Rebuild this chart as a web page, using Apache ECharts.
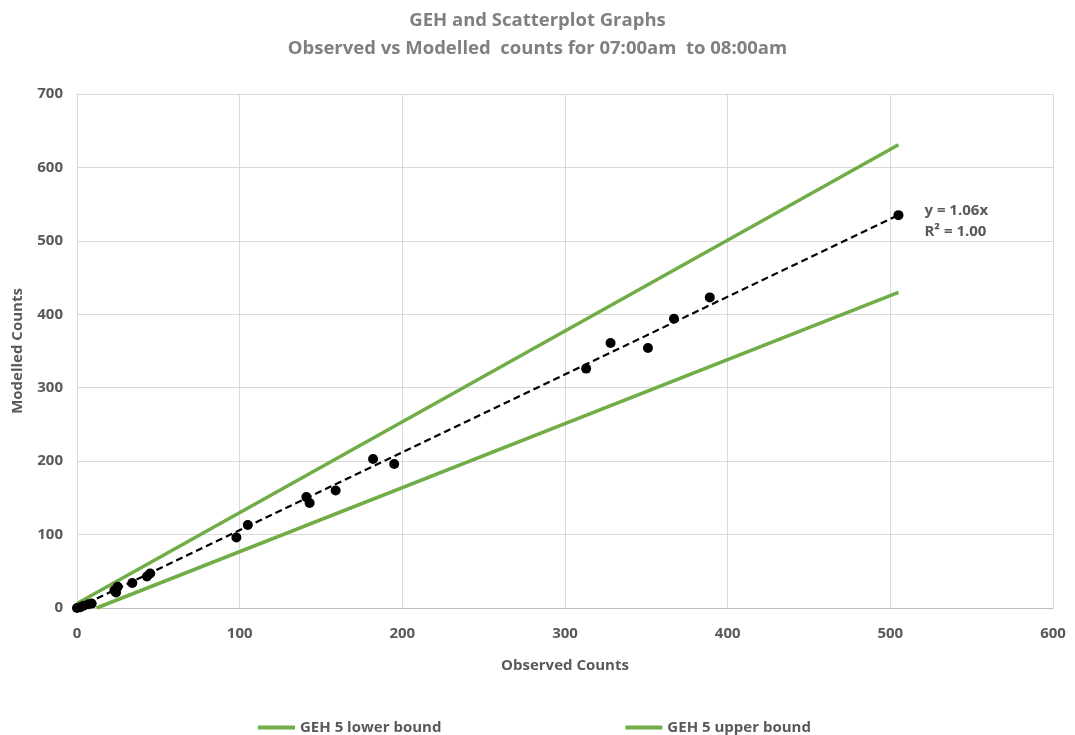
<!DOCTYPE html>
<html>
<head>
<meta charset="utf-8">
<script src="https://cdn.jsdelivr.net/npm/echarts@6/dist/echarts.min.js"></script>
<style>
  html, body { margin: 0; padding: 0; background: #ffffff; }
  #chart { width: 1075px; height: 735px; }
</style>
</head>
<body>
<div id="chart"></div>
<script>
// Observed vs modelled link counts, 07:00-08:00
const observed = [0, 2, 4, 7, 9, 23, 24, 25, 34, 43, 45, 98, 105, 141, 143, 159, 182, 195, 313, 328, 351, 367, 389, 505];
const modelled = [0, 1, 3, 5, 6, 24, 21, 29, 34, 43, 47, 96, 113, 151, 143, 160, 203, 196, 326, 361, 354, 394, 423, 535];

// GEH 5 envelope end points [observed, modelled]
const gehLower = [[12, 0], [505, 430]];
const gehUpper = [[0, 6], [505, 631]];

// Linear trend through the origin
const trendSlope = 1.06;
const trendR2 = 1.00;
const trendRange = [0, 505];

const xTicks = [0, 100, 200, 300, 400, 500, 600];
const yTicks = [0, 100, 200, 300, 400, 500, 600, 700];

const titleText = 'GEH and Scatterplot Graphs';
const subtitleText = 'Observed vs Modelled  counts for 07:00am  to 08:00am';

const FONT = "'Open Sans', sans-serif";
const GREY = '#595959';
const GREEN = '#70ad47';

const points = observed.map((o, i) => [o, modelled[i]]);
const trendLine = trendRange.map(x => [x, +(trendSlope * x).toFixed(2)]);

const chart = echarts.init(document.getElementById('chart'), null, { renderer: 'canvas' });

chart.setOption({
  animation: false,
  backgroundColor: '#ffffff',
  textStyle: { fontFamily: FONT },
  title: {
    text: titleText + '\n' + subtitleText,
    left: 'center',
    top: 2,
    textStyle: {
      fontFamily: FONT,
      fontSize: 18.5,
      fontWeight: 'bold',
      color: '#808080',
      lineHeight: 28
    }
  },
  legend: {
    top: 715,
    left: 253,
    itemGap: 184,
    itemWidth: 37,
    itemHeight: 4,
    icon: 'rect',
    data: ['GEH 5 lower bound', 'GEH 5 upper bound'],
    textStyle: { fontFamily: FONT, fontSize: 15, color: GREY, fontWeight: 'bold' }
  },
  grid: { left: 77, right: 22, top: 94, bottom: 127 },
  xAxis: {
    type: 'value',
    min: xTicks[0],
    max: xTicks[xTicks.length - 1],
    interval: 100,
    name: 'Observed Counts',
    nameLocation: 'middle',
    nameGap: 50,
    nameTextStyle: { fontFamily: FONT, fontSize: 15, fontWeight: 'bold', color: GREY },
    axisLine: { show: true, lineStyle: { color: '#bfbfbf', width: 1 } },
    axisTick: { show: false },
    axisLabel: { fontFamily: FONT, fontSize: 15, fontWeight: 'bold', color: GREY, margin: 18 },
    splitLine: { show: true, lineStyle: { color: '#d9d9d9', width: 1 } }
  },
  yAxis: {
    type: 'value',
    min: yTicks[0],
    max: yTicks[yTicks.length - 1],
    interval: 100,
    name: 'Modelled Counts',
    nameLocation: 'middle',
    nameGap: 52,
    nameRotate: 90,
    nameTextStyle: { fontFamily: FONT, fontSize: 15, fontWeight: 'bold', color: GREY },
    axisLine: { show: true, lineStyle: { color: '#d9d9d9', width: 1 } },
    axisTick: { show: false },
    axisLabel: { fontFamily: FONT, fontSize: 15, fontWeight: 'bold', color: GREY, margin: 14 },
    splitLine: { show: true, lineStyle: { color: '#d9d9d9', width: 1 } }
  },
  series: [
    {
      name: 'GEH 5 lower bound',
      type: 'line',
      data: gehLower,
      symbol: 'none',
      lineStyle: { color: GREEN, width: 3.5 },
      itemStyle: { color: GREEN },
      z: 2
    },
    {
      name: 'GEH 5 upper bound',
      type: 'line',
      data: gehUpper,
      symbol: 'none',
      lineStyle: { color: GREEN, width: 3.5 },
      itemStyle: { color: GREEN },
      z: 2
    },
    {
      name: 'Linear trend',
      type: 'line',
      data: trendLine,
      symbol: 'none',
      lineStyle: { color: '#000000', width: 2.2, type: [7, 4] },
      endLabel: {
        show: true,
        formatter: () => 'y = ' + trendSlope.toFixed(2) + 'x\nR\u00b2 = ' + trendR2.toFixed(2),
        fontFamily: FONT,
        fontSize: 15,
        fontWeight: 'bold',
        color: GREY,
        lineHeight: 21,
        align: 'left',
        offset: [18, 6]
      },
      z: 3
    },
    {
      name: 'Counts',
      type: 'scatter',
      data: points,
      symbol: 'circle',
      symbolSize: 10,
      itemStyle: { color: '#000000', opacity: 1 },
      z: 4
    }
  ]
});
</script>
</body>
</html>
